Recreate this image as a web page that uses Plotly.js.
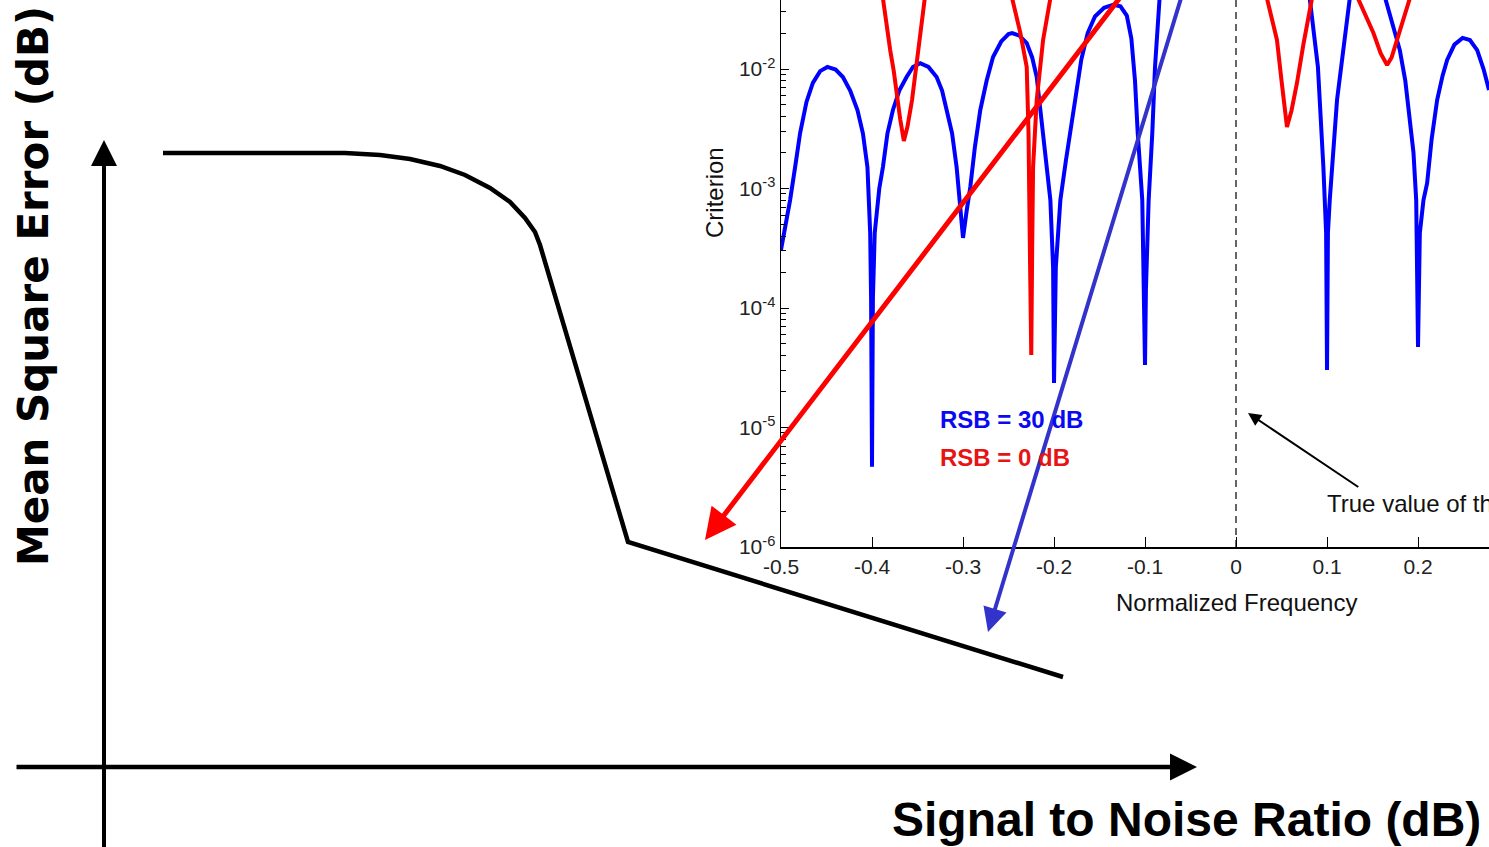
<!DOCTYPE html>
<html>
<head>
<meta charset="utf-8">
<script src="https://cdn.plot.ly/plotly-3.0.1.min.js"></script>
<style>
  html, body { margin: 0; padding: 0; background: #fff; }
  #chart { width: 1489px; height: 847px; }
</style>
</head>
<body>
<div id="chart"></div>
<script>
// ---- Main schematic: Mean Square Error vs Signal to Noise Ratio (arbitrary units) ----
const snrValues = [59, 241, 276, 306, 336, 361, 386, 406, 421, 431, 436, 524, 959];
const mseValues = [614, 614, 612, 608, 601, 592, 579, 565, 549, 535, 522, 225, 90];

// ---- Inset: Criterion vs Normalized Frequency ----
const freqTickVals = [-0.5, -0.4, -0.3, -0.2, -0.1, 0, 0.1, 0.2];
const freqTickText = ['-0.5', '-0.4', '-0.3', '-0.2', '-0.1', '0', '0.1', '0.2'];
const critTickVals = [1e-6, 1e-5, 1e-4, 1e-3, 1e-2];
const critTickText = ['10<sup>-6</sup>', '10<sup>-5</sup>', '10<sup>-4</sup>', '10<sup>-3</sup>', '10<sup>-2</sup>'];

// RSB = 30 dB (blue)
const blueFreq = [-0.5, -0.495, -0.49, -0.484, -0.479, -0.472, -0.465, -0.457, -0.449, -0.44, -0.432, -0.424, -0.416, -0.41, -0.405,
  -0.402, -0.401, -0.4, -0.399, -0.397, -0.392, -0.388, -0.383, -0.377, -0.37, -0.362, -0.355, -0.347, -0.338, -0.329, -0.323,
  -0.318, -0.312, -0.307, -0.303, -0.3, -0.296, -0.292, -0.287, -0.281, -0.274, -0.267, -0.258, -0.25, -0.246, -0.238, -0.23,
  -0.224, -0.219, -0.212, -0.207, -0.204, -0.201, -0.2, -0.198, -0.193, -0.187, -0.182, -0.176, -0.17, -0.163, -0.155, -0.145,
  -0.135, -0.127, -0.12, -0.115, -0.111, -0.108, -0.103, -0.101, -0.1, -0.099, -0.096, -0.092, -0.089, -0.084, null,
  0.081, 0.09, 0.096, 0.099, 0.1, 0.101, 0.103, 0.111, 0.125, null,
  0.164, 0.172, 0.18, 0.186, 0.191, 0.195, 0.198, 0.2, 0.202, 0.206, 0.21, 0.215, 0.221, 0.227, 0.232, 0.24, 0.249, 0.257,
  0.265, 0.272, 0.278];
const blueCrit = [3.06e-4, 4.8e-4, 8.0e-4, 1.6e-3, 2.91e-3, 5.3e-3, 7.64e-3, 9.6e-3, 1.04e-2, 9.9e-3, 8.57e-3, 6.6e-3, 4.54e-3, 2.9e-3, 1.51e-3,
  4.25e-4, 1.2e-4, 4.7e-6, 1.2e-4, 4.25e-4, 1.0e-3, 1.51e-3, 2.9e-3, 4.54e-3, 6.6e-3, 8.57e-3, 1.04e-2, 1.12e-2, 1.04e-2, 8.57e-3, 6.6e-3,
  4.54e-3, 2.9e-3, 1.51e-3, 7.5e-4, 3.86e-4, 6.5e-4, 1.03e-3, 2.2e-3, 4.54e-3, 8.0e-3, 1.26e-2, 1.7e-2, 1.96e-2, 2.0e-2, 1.9e-2, 1.65e-2,
  1.25e-2, 8.57e-3, 2.91e-3, 1.5e-3, 8.0e-4, 2.2e-4, 2.36e-5, 2.2e-4, 8.0e-4, 1.7e-3, 2.91e-3, 6.0e-3, 1.2e-2, 2.0e-2, 2.75e-2, 3.25e-2,
  3.45e-2, 3.35e-2, 2.8e-2, 1.8e-2, 8.0e-3, 2.91e-3, 8.0e-4, 1.42e-4, 3.34e-5, 1.42e-4, 8.0e-4, 2.91e-3, 1.04e-2, 3.9e-2, null,
  3.9e-2, 1.04e-2, 1.51e-3, 4.25e-4, 3.03e-5, 4.25e-4, 8.0e-4, 5.5e-3, 3.9e-2, null,
  3.9e-2, 2.4e-2, 1.44e-2, 8.0e-3, 3.97e-3, 2.0e-3, 8.0e-4, 4.72e-5, 4.25e-4, 8.0e-4, 1.11e-3, 2.6e-3, 5.5e-3, 8.8e-3, 1.19e-2, 1.6e-2, 1.82e-2, 1.75e-2,
  1.44e-2, 1.0e-2, 6.67e-3];

// RSB = 0 dB (red)
const redFreq = [-0.388, -0.384, -0.38, -0.376, -0.373, -0.369, -0.365, -0.361, -0.356, -0.352, -0.347, -0.342, null,
  -0.246, -0.237, -0.23, -0.228, -0.2265, -0.225, -0.224, -0.223, -0.219, -0.212, -0.204, null,
  0.034, 0.04, 0.045, 0.05, 0.056, 0.061, 0.067, 0.074, 0.081, 0.0835, null,
  0.134, 0.142, 0.151, 0.159, 0.166, 0.171, 0.177, 0.184, 0.191];
const redCrit = [3.9e-2, 2.3e-2, 1.44e-2, 9.5e-3, 6.3e-3, 3.8e-3, 2.5e-3, 3.3e-3, 5.5e-3, 9.5e-3, 1.75e-2, 3.9e-2, null,
  3.9e-2, 2.0e-2, 1.04e-2, 2.91e-3, 3.06e-4, 4.05e-5, 3.06e-4, 1.51e-3, 5.5e-3, 1.75e-2, 3.9e-2, null,
  3.9e-2, 2.6e-2, 1.75e-2, 8.0e-3, 3.27e-3, 4.5e-3, 7.64e-3, 1.6e-2, 3.3e-2, 3.9e-2, null,
  3.9e-2, 2.8e-2, 2.0e-2, 1.35e-2, 1.08e-2, 1.25e-2, 1.75e-2, 2.6e-2, 3.9e-2];

// true frequency marker
const trueFreqX = [0, 0];
const trueFreqY = [1e-6, 4e-2];

const FONT = 'Liberation Sans, Arial, Helvetica, sans-serif';

const traces = [
  { x: snrValues, y: mseValues, xaxis: 'x', yaxis: 'y', mode: 'lines', type: 'scatter',
    line: { color: '#000', width: 4.5 }, hoverinfo: 'skip' },
  { x: trueFreqX, y: trueFreqY, xaxis: 'x2', yaxis: 'y2', mode: 'lines', type: 'scatter',
    line: { color: '#000', width: 1.2, dash: '7px,5px' }, hoverinfo: 'skip' },
  { x: blueFreq, y: blueCrit, xaxis: 'x2', yaxis: 'y2', mode: 'lines', type: 'scatter', connectgaps: false,
    line: { color: 'rgb(0,0,255)', width: 4 }, hoverinfo: 'skip' },
  { x: redFreq, y: redCrit, xaxis: 'x2', yaxis: 'y2', mode: 'lines', type: 'scatter', connectgaps: false,
    line: { color: 'rgb(250,0,0)', width: 4 }, hoverinfo: 'skip' }
];

const arrow = (x, y, ax, ay, color, width, size, head) => ({
  x: x, y: y, ax: ax, ay: ay, xref: 'x', yref: 'y', axref: 'x', ayref: 'y',
  text: '', showarrow: true, arrowhead: head || 2, arrowsize: size, arrowwidth: width,
  arrowcolor: color, standoff: 0, startstandoff: 0
});

const annotations = [
  // main axes arrows
  arrow(0, 627, 0, -90, '#000', 4, 1.3),
  arrow(1093, 0, -89, 0, '#000', 4.5, 1.2),
  // red and blue pointer arrows
  arrow(601, 227, 1018, 772, 'rgb(255,0,0)', 5, 1.25),
  arrow(884, 135, 1078, 772, 'rgb(51,51,204)', 4, 1.2),
  // true value pointer (inset coordinates, log y)
  { x: 0.0132, y: -4.879, ax: 0.136, ay: -5.506, xref: 'x2', yref: 'y2', axref: 'x2', ayref: 'y2',
    text: '', showarrow: true, arrowhead: 2, arrowsize: 1.3, arrowwidth: 2, arrowcolor: '#000', standoff: 0 },
  { x: 0.0978, y: -5.632, xref: 'x2', yref: 'y2', xanchor: 'left', yanchor: 'middle', showarrow: false,
    text: 'True value of the frequency', font: { family: FONT, size: 24, color: '#111' } },
  // legend texts
  { x: -0.3275, y: -4.929, xref: 'x2', yref: 'y2', xanchor: 'left', yanchor: 'middle', showarrow: false,
    text: '<b>RSB = 30 dB</b>', font: { family: FONT, size: 24, color: 'rgb(10,10,240)' } },
  { x: -0.3275, y: -5.247, xref: 'x2', yref: 'y2', xanchor: 'left', yanchor: 'middle', showarrow: false,
    text: '<b>RSB = 0 dB</b>', font: { family: FONT, size: 24, color: 'rgb(230,20,20)' } },
  // inset axis titles
  { x: 0, y: 0.2881, xref: 'x2', yref: 'paper', xanchor: 'center', yanchor: 'middle', showarrow: false,
    text: 'Normalized Frequency', font: { family: FONT, size: 24, color: '#111' } },
  { x: 0.4795, y: 0.7733, xref: 'paper', yref: 'paper', xanchor: 'center', yanchor: 'middle', showarrow: false,
    textangle: -90, text: 'Criterion', font: { family: FONT, size: 24, color: '#111' } },
  // main titles
  { x: 0.0222, y: 0.6623, xref: 'paper', yref: 'paper', xanchor: 'center', yanchor: 'middle', showarrow: false,
    textangle: -90, text: '<b>Mean Square Error (dB)</b>',
    font: { family: 'DejaVu Sans, Verdana, sans-serif', size: 42, color: '#000' } },
  { x: 0.7968, y: 0.0319, xref: 'paper', yref: 'paper', xanchor: 'center', yanchor: 'middle', showarrow: false,
    text: '<b>Signal to Noise Ratio (dB)</b>',
    font: { family: FONT, size: 48, color: '#000' } }
];

const layout = {
  width: 1489, height: 847,
  margin: { l: 0, r: 0, t: 0, b: 0, pad: 0 },
  paper_bgcolor: '#fff', plot_bgcolor: 'rgba(0,0,0,0)',
  showlegend: false,
  xaxis: { domain: [0, 1], range: [-104, 1385], visible: false, fixedrange: true },
  yaxis: { domain: [0, 1], range: [-80, 767], visible: false, fixedrange: true },
  xaxis2: {
    domain: [781 / 1489, 1], anchor: 'y2', range: [-0.5, 0.278],
    tickmode: 'array', tickvals: freqTickVals, ticktext: freqTickText,
    ticks: 'inside', ticklen: 10, tickwidth: 1, tickcolor: '#000',
    showline: true, linecolor: '#000', linewidth: 1.5, showgrid: false, zeroline: false,
    tickfont: { family: FONT, size: 21, color: '#222' }, fixedrange: true
  },
  yaxis2: {
    domain: [300 / 847, 1], anchor: 'x2', type: 'log', range: [-6, -1.4226],
    tickmode: 'array', tickvals: critTickVals, ticktext: critTickText,
    ticks: 'inside', ticklen: 8, tickwidth: 1, tickcolor: '#000',
    minor: { ticks: 'inside', ticklen: 5, tickwidth: 1, tickcolor: '#000', dtick: 'D1', showgrid: false },
    showline: true, linecolor: '#000', linewidth: 1.5, showgrid: false, zeroline: false,
    tickfont: { family: FONT, size: 21, color: '#222' }, fixedrange: true
  },
  annotations: annotations
};

Plotly.newPlot('chart', traces, layout, { displayModeBar: false, staticPlot: true });
</script>
</body>
</html>
